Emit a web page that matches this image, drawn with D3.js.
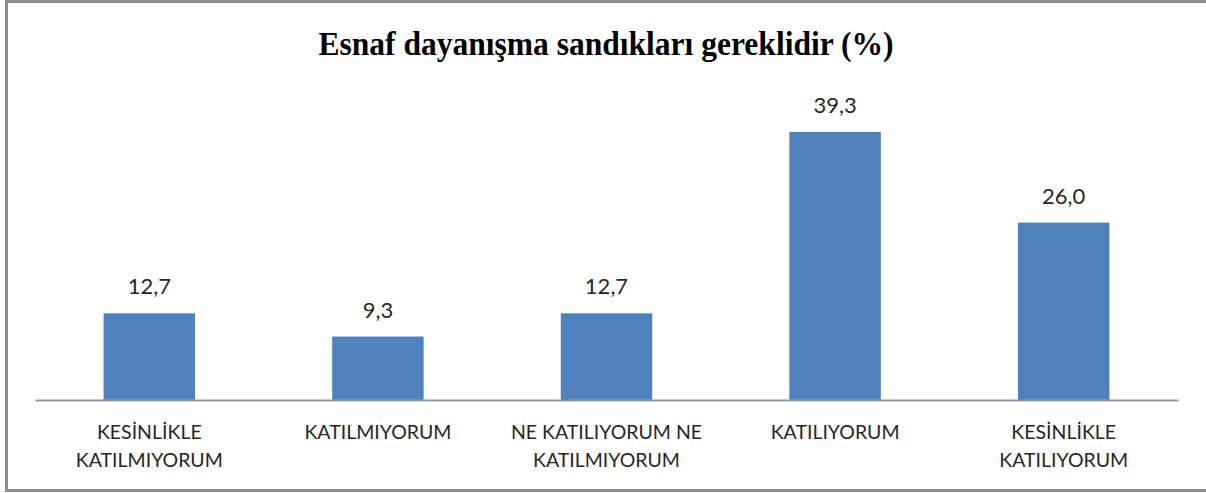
<!DOCTYPE html>
<html>
<head>
<meta charset="utf-8">
<script src="https://cdn.jsdelivr.net/npm/d3@7"></script>
<style>
  html, body { margin: 0; padding: 0; background: #fff; }
  svg { display: block; }
</style>
</head>
<body>
<svg id="chart" width="1206" height="493"></svg>
<script>
const title = "Esnaf dayanışma sandıkları gereklidir (%)";
const categories = [
  "KESİNLİKLE\nKATILMIYORUM",
  "KATILMIYORUM",
  "NE KATILIYORUM NE\nKATILMIYORUM",
  "KATILIYORUM",
  "KESİNLİKLE\nKATILIYORUM"
];
const values = [12.7, 9.3, 12.7, 39.3, 26.0];
const valueLabels = ["12,7", "9,3", "12,7", "39,3", "26,0"];

const svg = d3.select("#chart");

// frame
svg.append("rect")
  .attr("x", 6.5).attr("y", 1.5)
  .attr("width", 1204).attr("height", 489)
  .attr("fill", "#fff")
  .attr("stroke", "#8c8c8c")
  .attr("stroke-width", 3);

const plot = { left: 35, right: 1178, top: 93, bottom: 400 };

const x = d3.scaleBand()
  .domain(categories)
  .range([plot.left, plot.right])
  .paddingInner(0.6)
  .paddingOuter(0.3);

const y = d3.scaleLinear()
  .domain([0, 45])
  .range([plot.bottom, plot.top]);

const fontSans = "Lato, 'Open Sans', sans-serif";

// bars
svg.append("g").selectAll("rect")
  .data(values)
  .join("rect")
  .attr("x", (d, i) => x(categories[i]))
  .attr("y", d => y(d))
  .attr("width", x.bandwidth())
  .attr("height", d => y(0) - y(d))
  .attr("fill", "#4f81bd");

// axis
const xAxis = d3.axisBottom(x).tickSize(0).tickFormat("");
const ax = svg.append("g")
  .attr("transform", `translate(0,${plot.bottom})`)
  .call(xAxis);
ax.select(".domain").attr("stroke", "#999").attr("stroke-width", 2);

// category labels
const catG = svg.append("g");
categories.forEach((c, i) => {
  const lines = c.split("\n");
  const t = catG.append("text")
    .attr("x", x(c) + x.bandwidth() / 2)
    .attr("y", 439)
    .attr("text-anchor", "middle")
    .attr("font-family", fontSans)
    .attr("font-size", 19.5)
    .attr("fill", "#262626");
  lines.forEach((ln, j) => {
    t.append("tspan")
      .attr("x", x(c) + x.bandwidth() / 2)
      .attr("dy", j === 0 ? 0 : 28)
      .text(ln);
  });
});

// value labels
svg.append("g").selectAll("text")
  .data(values)
  .join("text")
  .attr("x", (d, i) => x(categories[i]) + x.bandwidth() / 2)
  .attr("y", d => y(d) - 19)
  .attr("text-anchor", "middle")
  .attr("font-family", fontSans)
  .attr("font-size", 22)
  .attr("fill", "#262626")
  .text((d, i) => valueLabels[i]);

// title
svg.append("text")
  .attr("x", 606)
  .attr("y", 55)
  .attr("text-anchor", "middle")
  .attr("font-family", "'Liberation Serif', 'Times New Roman', serif")
  .attr("font-weight", "bold")
  .attr("font-size", 33)
  .attr("textLength", 575)
  .attr("lengthAdjust", "spacingAndGlyphs")
  .attr("fill", "#000")
  .text(title);
</script>
</body>
</html>
